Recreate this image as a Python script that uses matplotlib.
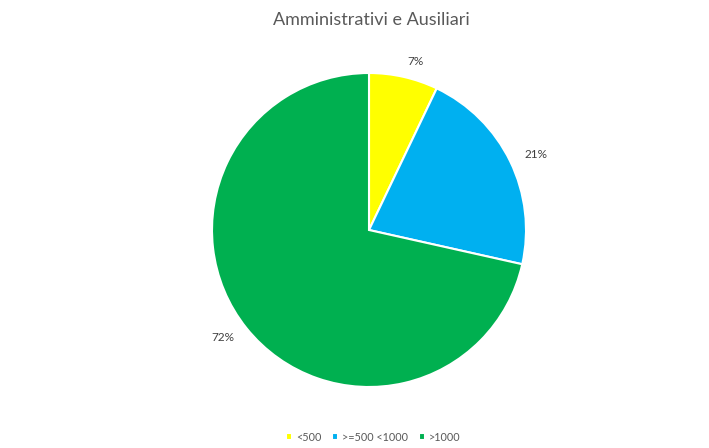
import matplotlib.pyplot as plt

# dati del grafico
categorie = ['<500', '>=500 <1000', '>1000']
valori = [7.1, 21.4, 71.5]
etichette = ['7%', '21%', '72%']
colori = ['#FFFF00', '#00B0F0', '#00B050']
titolo = 'Amministrativi e Ausiliari'

plt.rcParams['font.family'] = ['Lato', 'DejaVu Sans']
grigio = '#595959'

fig = plt.figure(figsize=(7.09, 4.48), dpi=100)

# assi quadrati: centro torta (369, 230) px, raggio 157 px
r_px = 157
lato = 2.4 * r_px
cx, cy = 369 / 709, 1 - 230 / 448
ax = fig.add_axes([cx - lato / 2 / 709, cy - lato / 2 / 448, lato / 709, lato / 448])

wedges, testi = ax.pie(valori, labels=etichette, colors=colori, startangle=90,
                       counterclock=False, labeldistance=1.1,
                       wedgeprops=dict(edgecolor='white', linewidth=1.5),
                       textprops=dict(color='#404040', fontsize=8.5))
ax.set_xlim(-1.2, 1.2)
ax.set_ylim(-1.2, 1.2)
ax.axis('off')

fig.text(371 / 709, 1 - 20 / 448, titolo, ha='center', va='center',
         fontsize=13, color=grigio)

fig.legend(wedges, categorie, loc='center', bbox_to_anchor=(373 / 709, 1 - 437 / 448),
           ncol=3, frameon=False, fontsize=7.8, labelcolor=grigio,
           handlelength=0.55, handleheight=0.55, handletextpad=0.35,
           columnspacing=1.0)

fig.savefig('out.png', dpi=100)
